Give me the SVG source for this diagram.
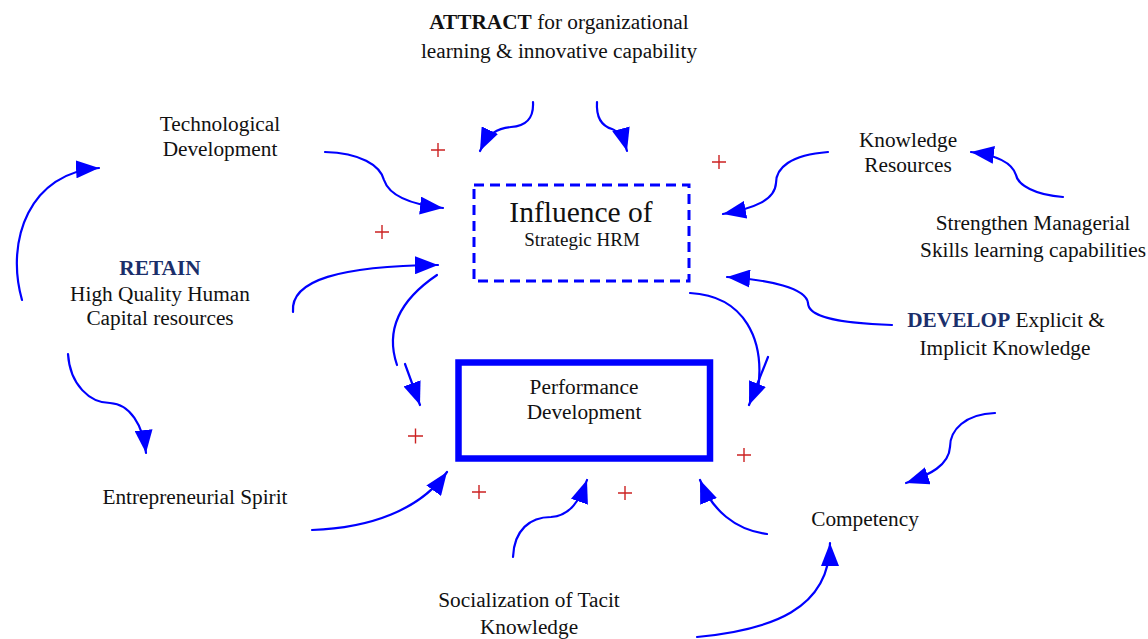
<svg xmlns="http://www.w3.org/2000/svg" width="1148" height="639" viewBox="0 0 1148 639" font-family="'Liberation Serif', 'DejaVu Serif', serif">
<defs>
<marker id="ah" markerUnits="userSpaceOnUse" markerWidth="24" markerHeight="18" refX="23" refY="9" orient="auto">
<path d="M0,0 L23,9 L0,18 z" fill="#0000FF"/>
</marker>
<style>
text{fill:#111;text-anchor:middle}
.t{font-size:21.3px}
.b{font-weight:bold}
.nv{fill:#1B2F6B;font-weight:bold}
.c{fill:none;stroke:#0000FF;stroke-width:2.2;stroke-linecap:round}
.p{stroke:#CC2222;stroke-width:1.4;fill:none}
</style>
</defs>
<rect width="1148" height="639" fill="#fff"/>

<g id="attract"><text class="t" x="559" y="29"><tspan class="b">ATTRACT</tspan> for organizational</text><text class="t" x="559" y="58">learning &amp; innovative capability</text></g>
<g id="tech"><text class="t" x="220" y="131">Technological</text><text class="t" x="220" y="156">Development</text></g>
<g id="knowres"><text class="t" x="908" y="147">Knowledge</text><text class="t" x="908" y="172">Resources</text></g>
<g id="strengthen"><text class="t" x="1033" y="230">Strengthen Managerial</text><text class="t" x="1033" y="257">Skills learning capabilities</text></g>
<g id="retain"><text class="t nv" x="160" y="275">RETAIN</text><text class="t" x="160" y="301">High Quality Human</text><text class="t" x="160" y="325">Capital resources</text></g>
<g id="develop"><text class="t" x="1006" y="327"><tspan class="nv">DEVELOP</tspan> Explicit &amp;</text><text class="t" x="1005" y="355">Implicit Knowledge</text></g>
<g id="influence">
<rect x="474" y="185" width="215" height="96" fill="none" stroke="#0000FF" stroke-width="3" stroke-dasharray="10,6"/>
<text x="581" y="222" style="font-size:29.5px">Influence of</text>
<text x="582" y="246" style="font-size:19px">Strategic HRM</text>
</g>
<g id="performance">
<rect x="458.5" y="362.5" width="251.5" height="96" fill="none" stroke="#0000FF" stroke-width="6.5"/>
<text class="t" x="584" y="394">Performance</text>
<text class="t" x="584" y="419">Development</text>
</g>
<g id="entrepreneurial"><text class="t" x="195" y="504">Entrepreneurial Spirit</text></g>
<g id="competency"><text class="t" x="865" y="526">Competency</text></g>
<g id="socialization"><text class="t" x="529" y="607">Socialization of Tacit</text><text class="t" x="529" y="634">Knowledge</text></g>

<g id="signs">
<path class="p" d="M431,150 h14 M438,143 v14"/>
<path class="p" d="M712,162 h14 M719,155 v14"/>
<path class="p" d="M375,232 h14 M382,225 v14"/>
<path class="p" d="M408,436 h15 M415.5,428.5 v15"/>
<path class="p" d="M737,455 h14 M744,448 v14"/>
<path class="p" d="M472,492 h14 M479,485 v14"/>
<path class="p" d="M618,493 h14 M625,486 v14"/>
</g>

<g id="connectors">
<path class="c" d="M533,102 C534,120 525,126 511,127 C497,128 488,134 480,151" marker-end="url(#ah)"/>
<path class="c" d="M597,102 C596,118 602,126 612,129 C620,132 624,140 627,151" marker-end="url(#ah)"/>
<path class="c" d="M325,152 C360,153 380,165 384,180 C390,198 415,205 443,208" marker-end="url(#ah)"/>
<path class="c" d="M22,300 C5,240 30,172 99,168" marker-end="url(#ah)"/>
<path class="c" d="M293,312 C290,280 340,266 438,265" marker-end="url(#ah)"/>
<path class="c" d="M437,275 C400,300 385,330 397,365"/>
<path class="c" d="M405,364 L420,405" marker-end="url(#ah)"/>
<path class="c" d="M690,293 C745,296 765,340 758,390"/>
<path class="c" d="M768,357 L749,405" marker-end="url(#ah)"/>
<path class="c" d="M828,152 C790,155 776,168 776,183 C775,200 755,208 723,214" marker-end="url(#ah)"/>
<path class="c" d="M1063,197 C1035,195 1018,185 1016,175 C1012,162 995,155 971,152" marker-end="url(#ah)"/>
<path class="c" d="M892,325 C830,323 808,315 808,303 C806,288 770,280 727,277" marker-end="url(#ah)"/>
<path class="c" d="M68,354 C70,385 90,403 110,403 C130,404 143,425 146,453" marker-end="url(#ah)"/>
<path class="c" d="M312,530 C370,528 420,510 447,472" marker-end="url(#ah)"/>
<path class="c" d="M513,557 C514,530 530,517 551,517 C570,516 580,500 587,480" marker-end="url(#ah)"/>
<path class="c" d="M767,534 C735,530 712,510 700,480" marker-end="url(#ah)"/>
<path class="c" d="M697,637 C770,630 830,610 830,543" marker-end="url(#ah)"/>
<path class="c" d="M995,413 C965,414 950,430 950,447 C949,465 930,475 906,483" marker-end="url(#ah)"/>
</g>
</svg>
